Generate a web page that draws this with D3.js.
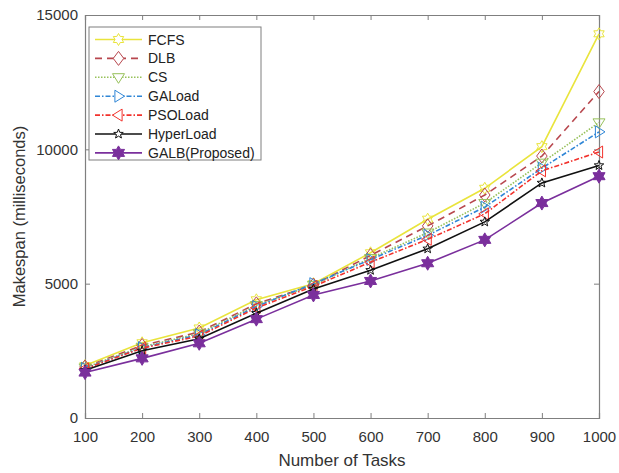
<!DOCTYPE html>
<html>
<head>
<meta charset="utf-8">
<script src="https://cdn.jsdelivr.net/npm/d3@7"></script>
<style>
  body { margin: 0; background: #fff; }
  text { font-family: "Liberation Sans", Arial, sans-serif; }
</style>
</head>
<body>
<div id="chart"></div>
<script>
// data
var tasks = [100, 200, 300, 400, 500, 600, 700, 800, 900, 1000];
var fcfs = [1950, 2800, 3350, 4400, 5000, 6150, 7400, 8550, 10100, 14300];
var dlb = [1900, 2700, 3200, 4250, 4950, 6050, 7150, 8300, 9750, 12150];
var cs = [1880, 2650, 3150, 4200, 4950, 5950, 6900, 8000, 9500, 11000];
var gaLoad = [1850, 2620, 3100, 4150, 5000, 5900, 6800, 7850, 9300, 10650];
var psoLoad = [1830, 2600, 3050, 4100, 4900, 5800, 6650, 7600, 9200, 9900];
var hyperLoad = [1780, 2500, 2950, 3900, 4800, 5500, 6300, 7300, 8750, 9400];
var galb = [1690, 2220, 2780, 3680, 4580, 5100, 5760, 6630, 8000, 9000];
var yTicks = [0, 5000, 10000, 15000];

var series = [
    { name: "FCFS", values: fcfs, color: "#e9e43c", dash: null, marker: "hex", fill: false },
    { name: "DLB", values: dlb, color: "#b8474e", dash: "7,5", marker: "diamond", fill: false },
    { name: "CS", values: cs, color: "#97c15a", dash: "1.5,1.5", marker: "down", fill: false },
    { name: "GALoad", values: gaLoad, color: "#2f86d6", dash: "5,2,1.5,2", marker: "right", fill: false },
    { name: "PSOLoad", values: psoLoad, color: "#f2322c", dash: "5,2,1.5,2", marker: "left", fill: false },
    { name: "HyperLoad", values: hyperLoad, color: "#111111", dash: null, marker: "star", fill: false },
    { name: "GALB(Proposed)", values: galb, color: "#7a2f9c", dash: null, marker: "hex", fill: true }
];

var W = 619, H = 473;
var margin = { left: 85, top: 15, right: 20, bottom: 55 };
var iw = W - margin.left - margin.right, ih = H - margin.top - margin.bottom;
var axisColor = "#7f7f7f", textColor = "#333";

var svg = d3.select("#chart").append("svg")
    .attr("width", W).attr("height", H);

var x = d3.scaleLinear().domain([100, 1000]).range([0, iw]);
var y = d3.scaleLinear().domain([0, 15000]).range([ih, 0]);

var g = svg.append("g")
    .attr("transform", "translate(" + margin.left + "," + margin.top + ")");

// marker shapes
function markerPath(type, r) {
    var p = d3.path();
    if (type == "diamond") {
        p.moveTo(0, -r); p.lineTo(r * 0.75, 0); p.lineTo(0, r); p.lineTo(-r * 0.75, 0); p.closePath();
    } else if (type == "down") {
        p.moveTo(-r, -r * 0.6); p.lineTo(r, -r * 0.6); p.lineTo(0, r); p.closePath();
    } else if (type == "right") {
        p.moveTo(-r * 0.6, -r); p.lineTo(r, 0); p.lineTo(-r * 0.6, r); p.closePath();
    } else if (type == "left") {
        p.moveTo(r * 0.6, -r); p.lineTo(-r, 0); p.lineTo(r * 0.6, r); p.closePath();
    } else {
        var n = type == "hex" ? 6 : 5;
        var inner = type == "hex" ? 0.58 : 0.42;
        for (var i = 0; i < n * 2; i++) {
            var a = -Math.PI / 2 + i * Math.PI / n;
            var rr = i % 2 == 0 ? r : r * inner;
            if (i == 0) p.moveTo(rr * Math.cos(a), rr * Math.sin(a));
            else p.lineTo(rr * Math.cos(a), rr * Math.sin(a));
        }
        p.closePath();
    }
    return p.toString();
}
function markerSize(s) {
    if (s.marker == "diamond") return 7;
    if (s.marker == "star") return 5;
    if (s.fill) return 7;
    return 6;
}

// axes (box, ticks inside)
var xAxis = d3.axisBottom(x).tickValues(tasks).tickSize(-5).tickPadding(13).tickFormat(d3.format("d"));
var yAxis = d3.axisLeft(y).tickValues(yTicks).tickSize(-5).tickPadding(7).tickFormat(d3.format("d"));

var gx = g.append("g").attr("transform", "translate(0," + ih + ")").call(xAxis);
var gy = g.append("g").call(yAxis);
g.append("g").call(d3.axisTop(x).tickValues(tasks).tickSize(-5).tickFormat(""));
g.append("g").attr("transform", "translate(" + iw + ",0)")
    .call(d3.axisRight(y).tickValues(yTicks).tickSize(-5).tickFormat(""));

g.selectAll(".domain").attr("stroke", axisColor).attr("stroke-width", 1.2);
g.selectAll(".tick line").attr("stroke", axisColor);
g.selectAll(".tick text").attr("fill", textColor).style("font-size", "15px");

// axis titles
svg.append("text")
    .attr("x", margin.left + iw / 2).attr("y", 466)
    .attr("text-anchor", "middle").attr("fill", textColor)
    .style("font-size", "17px").text("Number of Tasks");
svg.append("text")
    .attr("transform", "translate(25," + (margin.top + ih / 2) + ")rotate(-90)")
    .attr("text-anchor", "middle").attr("fill", textColor)
    .style("font-size", "16.5px").text("Makespan (milliseconds)");

// lines + markers
var line = d3.line()
    .x(function(d, i) { return x(tasks[i]); })
    .y(function(d) { return y(d); });

series.forEach(function(s) {
    g.append("path")
        .datum(s.values)
        .attr("fill", "none")
        .attr("stroke", s.color)
        .attr("stroke-width", 1.6)
        .attr("stroke-dasharray", s.dash)
        .attr("d", line);
    g.selectAll(null)
        .data(s.values)
        .enter().append("path")
        .attr("transform", function(d, i) { return "translate(" + x(tasks[i]) + "," + y(d) + ")"; })
        .attr("d", markerPath(s.marker, markerSize(s)))
        .attr("fill", s.fill ? s.color : "none")
        .attr("stroke", s.color)
        .attr("stroke-width", 1);
});

// legend
var leg = svg.append("g").attr("transform", "translate(89,27)");
leg.append("rect")
    .attr("width", 172).attr("height", 133)
    .attr("fill", "#fff").attr("stroke", axisColor).attr("stroke-width", 1);

var rows = leg.selectAll("g.row")
    .data(series)
    .enter().append("g")
    .attr("class", "row")
    .attr("transform", function(d, i) { return "translate(0," + (12.5 + i * 18.9) + ")"; });

rows.append("line")
    .attr("x1", 6).attr("x2", 53)
    .attr("stroke", function(d) { return d.color; })
    .attr("stroke-width", 1.6)
    .attr("stroke-dasharray", function(d) { return d.dash; });
rows.append("path")
    .attr("transform", "translate(29.5,0)")
    .attr("d", function(d) { return markerPath(d.marker, markerSize(d)); })
    .attr("fill", function(d) { return d.fill ? d.color : "#fff"; })
    .attr("stroke", function(d) { return d.color; })
    .attr("stroke-width", 1);
rows.append("text")
    .attr("x", 59).attr("dy", "0.36em")
    .attr("fill", "#222")
    .style("font-size", "14px")
    .text(function(d) { return d.name; });
</script>
</body>
</html>
